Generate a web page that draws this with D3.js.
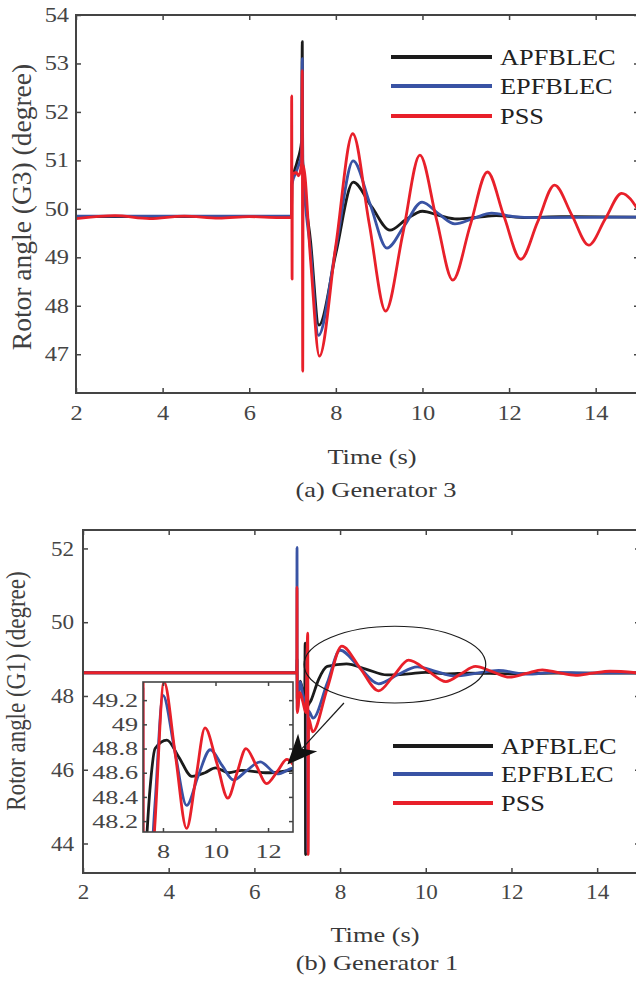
<!DOCTYPE html>
<html>
<head>
<meta charset="utf-8">
<script src="https://cdn.jsdelivr.net/npm/d3@7"></script>
<style>
body { margin: 0; background: #fff; }
text { font-family: "Liberation Serif", "Times New Roman", serif; }
</style>
</head>
<body>
<div id="wrapper"></div>
<script>
var names = ["APFBLEC", "EPFBLEC", "PSS"];
var colors = ["#1b1b1b", "#3953a4", "#e8202a"];

var timeTicks = [2, 4, 6, 8, 10, 12, 14];
var g3Ticks = [47, 48, 49, 50, 51, 52, 53, 54];
var g1Ticks = [44, 46, 48, 50, 52];
var insetTimeTicks = [8, 10, 12];
var insetTicks = [48.2, 48.4, 48.6, 48.8, 49, 49.2];

// (a) generator 3, [time, degree]
var g3Black = [[2,49.84],[6.975,49.84],[6.985,50.55],[7.1,50.95],[7.21,51.4],[7.225,53.45],[7.235,51.0],[7.42,49.3],[7.61,47.6],[8.0,49.08],[8.4,50.55],[8.82,50.05],[9.25,49.56],[9.62,49.78],[10.0,49.95],[10.4,49.86],[10.8,49.79],[11.3,49.83],[11.7,49.86],[12.4,49.82],[13.2,49.84],[15,49.83]];
var g3Blue = [[2,49.85],[6.975,49.85],[6.985,50.5],[7.1,50.8],[7.21,51.15],[7.225,53.1],[7.235,50.95],[7.42,49.1],[7.6,47.39],[8.0,49.19],[8.4,50.99],[8.79,50.1],[9.18,49.19],[9.58,49.65],[9.99,50.14],[10.37,49.9],[10.75,49.69],[11.17,49.8],[11.6,49.91],[12.1,49.84],[12.6,49.82],[15,49.83]];
var g3Red = [[2.0,49.80],[2.9,49.86],[3.7,49.80],[4.5,49.85],[5.3,49.81],[6.0,49.84],[6.7,49.82],[6.975,49.82],[6.98,52.33],[6.99,48.55],[6.995,50.7],[7.08,50.75],[7.14,50.68],[7.21,50.95],[7.225,52.85],[7.235,46.65],[7.245,50.9],[7.42,48.9],[7.62,46.96],[8.0,49.25],[8.39,51.55],[8.77,49.7],[9.15,47.89],[9.55,49.5],[9.94,51.11],[10.32,49.8],[10.7,48.53],[11.1,49.65],[11.5,50.76],[11.88,49.85],[12.27,48.96],[12.66,49.73],[13.05,50.49],[13.45,49.87],[13.84,49.25],[14.22,49.79],[14.6,50.32],[15.0,49.95]];

// (b) generator 1
var g1Black = [[2,48.63],[6.99,48.63],[6.995,49.0],[7.0,47.9],[7.07,48.4],[7.14,48.05],[7.175,47.9],[7.185,49.43],[7.195,43.7],[7.21,47.6],[7.33,47.9],[7.5,48.45],[7.7,48.8],[8.15,48.87],[8.6,48.73],[9.1,48.57],[9.6,48.6],[10.0,48.64],[10.5,48.6],[11.0,48.62],[12.0,48.6],[13.0,48.62],[15,48.62]];
var g1Blue = [[2,48.63],[6.99,48.63],[6.995,52.03],[7.0,47.6],[7.07,48.38],[7.14,48.0],[7.21,47.75],[7.235,49.3],[7.245,43.75],[7.26,47.6],[7.37,47.4],[7.7,48.35],[8.0,49.24],[8.45,48.78],[8.9,48.33],[9.35,48.58],[9.8,48.79],[10.25,48.66],[10.68,48.54],[11.2,48.62],[11.7,48.69],[12.35,48.59],[13.0,48.64],[13.8,48.62],[15,48.63]];
var g1Red = [[2,48.63],[6.99,48.63],[6.995,50.95],[7.0,47.55],[7.06,48.1],[7.13,47.85],[7.2,47.55],[7.245,49.7],[7.255,43.7],[7.265,47.4],[7.36,47.03],[7.7,48.2],[8.04,49.35],[8.47,48.75],[8.9,48.14],[9.25,48.55],[9.6,48.97],[10.05,48.68],[10.47,48.39],[10.82,48.6],[11.16,48.8],[11.55,48.66],[11.95,48.51],[12.35,48.61],[12.72,48.71],[13.1,48.63],[13.5,48.56],[13.9,48.62],[14.3,48.67],[15,48.62]];

// zoom marker on (b): centre time, centre degree, half width (s), half height (degree)
var zoomEllipse = [9.28, 48.85, 2.12, 1.04];
var zoomArrow = [[8.09, 47.81], [6.77, 46.14]];

var svg = d3.select("#wrapper").append("svg")
	.attr("width", 636)
	.attr("height", 986);

var clipCount = 0;

function label(x, y, str, size, sx, anchor) {
	return svg.append("text")
		.attr("transform", "translate(" + x + "," + y + ") scale(" + sx + ",1)")
		.attr("text-anchor", anchor || "start")
		.style("font-size", size + "px")
		.style("fill", "#383838")
		.text(str);
}

function vlabel(x, y, str, size, sy) {
	return svg.append("text")
		.attr("transform", "translate(" + x + "," + y + ") rotate(-90) scale(1," + sy + ")")
		.attr("text-anchor", "middle")
		.style("font-size", size + "px")
		.style("fill", "#404040")
		.text(str);
}

function panel(cfg) {
	var x = d3.scaleLinear().domain(cfg.xd).range([cfg.l, cfg.r]);
	var y = d3.scaleLinear().domain(cfg.yd).range([cfg.b, cfg.t]);
	var g = svg.append("g");

	if (cfg.fill) {
		g.append("rect").attr("x", cfg.l).attr("y", cfg.t)
			.attr("width", cfg.r - cfg.l).attr("height", cfg.b - cfg.t)
			.attr("fill", "#fff");
	}

	var id = "clip" + (clipCount++);
	g.append("clipPath").attr("id", id).append("rect")
		.attr("x", cfg.l).attr("y", cfg.t)
		.attr("width", cfg.r - cfg.l).attr("height", cfg.b - cfg.t);

	var line = d3.line()
		.x(function(d) { return x(d[0]); })
		.y(function(d) { return y(d[1]); })
		.curve(d3.curveMonotoneX);

	g.append("g").attr("clip-path", "url(#" + id + ")")
		.selectAll("path")
		.data(cfg.series)
		.enter()
		.append("path")
		.attr("d", line)
		.attr("fill", "none")
		.attr("stroke", function(d, i) { return colors[i]; })
		.attr("stroke-width", cfg.lw)
		.attr("stroke-linejoin", "round");

	var tk = cfg.tick;
	var fmt = function(d) { return d; };

	var bx = g.append("g").attr("transform", "translate(0," + cfg.b + ")")
		.call(d3.axisBottom(x).tickValues(cfg.xt).tickSizeInner(-tk).tickSizeOuter(0).tickPadding(cfg.padX).tickFormat(fmt));
	var tx = g.append("g").attr("transform", "translate(0," + cfg.t + ")")
		.call(d3.axisTop(x).tickValues(cfg.xt).tickSizeInner(-tk).tickSizeOuter(0).tickFormat(""));
	var ly = g.append("g").attr("transform", "translate(" + cfg.l + ",0)")
		.call(d3.axisLeft(y).tickValues(cfg.yt).tickSizeInner(-tk).tickSizeOuter(0).tickPadding(cfg.padY).tickFormat(fmt));
	var ry = g.append("g").attr("transform", "translate(" + cfg.r + ",0)")
		.call(d3.axisRight(y).tickValues(cfg.yt).tickSizeInner(-tk).tickSizeOuter(0).tickFormat(""));

	[bx, tx, ly, ry].forEach(function(a) {
		a.attr("color", "#444");
		a.select(".domain").remove();
		a.selectAll("line").attr("stroke-width", 1.5);
		a.selectAll("text")
			.attr("transform", "scale(" + cfg.sx + ",1)")
			.style("font-family", '"Liberation Serif", "Times New Roman", serif')
			.style("font-size", cfg.fs + "px")
			.style("fill", "#454545");
	});

	g.append("rect").attr("x", cfg.l).attr("y", cfg.t)
		.attr("width", cfg.r - cfg.l).attr("height", cfg.b - cfg.t)
		.attr("fill", "none").attr("stroke", "#444").attr("stroke-width", cfg.fw);

	return {x: x, y: y, g: g};
}

function legend(x0, x1, ys) {
	names.forEach(function(n, i) {
		svg.append("line")
			.attr("x1", x0).attr("x2", x1)
			.attr("y1", ys[i]).attr("y2", ys[i])
			.attr("stroke", colors[i]).attr("stroke-width", 4);
		label(x1 + 8, ys[i] + 8, n, 22.7, 1.16).style("fill", "#222");
	});
}

// ---- (a) Generator 3
panel({
	l: 76, r: 639, t: 15, b: 393,
	xd: [2, 15], yd: [46.2, 54],
	xt: timeTicks, yt: g3Ticks,
	series: [g3Black, g3Blue, g3Red],
	lw: 2.8, tick: 5, fw: 2,
	fs: 20, sx: 1.22, padX: 12.8, padY: 5.7
});
legend(391, 492, [57, 86, 116]);
vlabel(31, 207, "Rotor angle (G3) (degree)", 27.5, 1);
label(372, 464, "Time (s)", 22, 1.2, "middle");
label(376, 497, "(a) Generator 3", 22, 1.2, "middle");

// ---- (b) Generator 1
var pb = panel({
	l: 83, r: 640, t: 530, b: 873,
	xd: [2, 15], yd: [43.2, 52.5],
	xt: timeTicks, yt: g1Ticks,
	series: [g1Black, g1Blue, g1Red],
	lw: 2.8, tick: 5, fw: 2,
	fs: 21, sx: 1.1, padX: 11.1, padY: 8.2
});

// zoom ellipse
pb.g.append("ellipse")
	.attr("cx", pb.x(zoomEllipse[0]))
	.attr("cy", pb.y(zoomEllipse[1]))
	.attr("rx", pb.x(zoomEllipse[0] + zoomEllipse[2]) - pb.x(zoomEllipse[0]))
	.attr("ry", pb.y(zoomEllipse[1]) - pb.y(zoomEllipse[1] + zoomEllipse[3]))
	.attr("fill", "none").attr("stroke", "#1b1b1b").attr("stroke-width", 1.2);

// inset
panel({
	l: 143, r: 293, t: 682, b: 832,
	xd: [7.24, 12.95], yd: [48.11, 49.35],
	xt: insetTimeTicks, yt: insetTicks,
	series: [g1Black, g1Blue, g1Red],
	lw: 2.8, tick: 4, fw: 1.6, fill: true,
	fs: 19, sx: 1.38, padX: 12.5, padY: 3.6
});

// arrow from ellipse to inset
var a0 = [pb.x(zoomArrow[0][0]), pb.y(zoomArrow[0][1])];
var a1 = [pb.x(zoomArrow[1][0]), pb.y(zoomArrow[1][1])];
var dx = a1[0] - a0[0], dy = a1[1] - a0[1];
var len = Math.sqrt(dx * dx + dy * dy);
var ux = dx / len, uy = dy / len;
var L = 30, Wd = 13;
var base = [a1[0] - ux * L, a1[1] - uy * L];
var notch = [a1[0] - ux * L * 0.72, a1[1] - uy * L * 0.72];
svg.append("line")
	.attr("x1", a0[0]).attr("y1", a0[1])
	.attr("x2", notch[0]).attr("y2", notch[1])
	.attr("stroke", "#1b1b1b").attr("stroke-width", 1.2);
svg.append("polygon")
	.attr("points", [
		a1,
		[base[0] - uy * Wd, base[1] + ux * Wd],
		notch,
		[base[0] + uy * Wd, base[1] - ux * Wd]
	].map(function(p) { return p.join(","); }).join(" "))
	.attr("fill", "#111");

legend(393, 493, [746, 774, 803]);
vlabel(25, 691, "Rotor angle (G1) (degree)", 23, 1.2);
label(375, 942, "Time (s)", 22, 1.2, "middle");
label(377, 970, "(b) Generator 1", 22, 1.2, "middle");
</script>
</body>
</html>
